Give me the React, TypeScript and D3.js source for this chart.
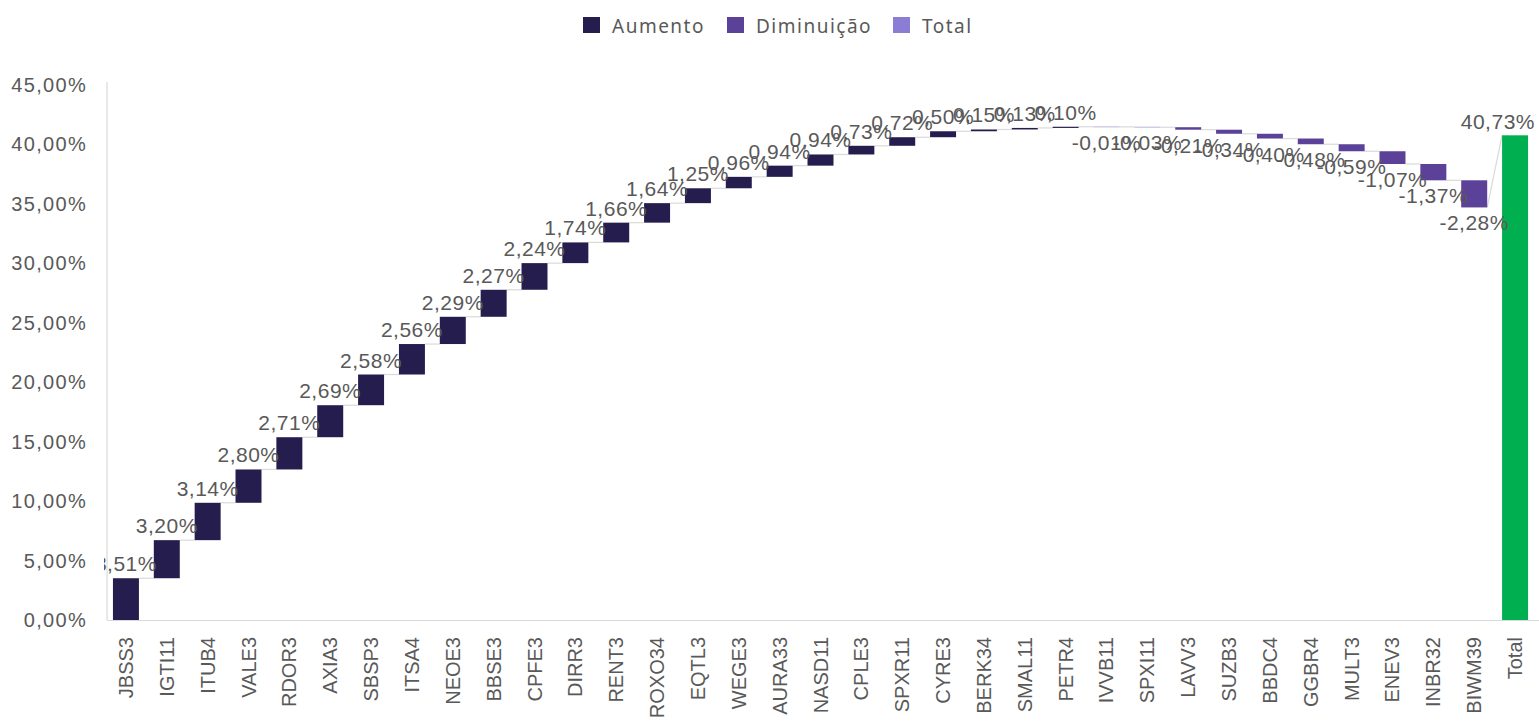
import * as d3 from "d3";

// tickers in chart order, last one is the total column
const categories = [
  "JBSS3", "IGTI11", "ITUB4", "VALE3", "RDOR3", "AXIA3", "SBSP3", "ITSA4", "NEOE3",
  "BBSE3", "CPFE3", "DIRR3", "RENT3", "ROXO34", "EQTL3", "WEGE3", "AURA33", "NASD11",
  "CPLE3", "SPXR11", "CYRE3", "BERK34", "SMAL11", "PETR4", "IVVB11", "SPXI11", "LAVV3",
  "SUZB3", "BBDC4", "GGBR4", "MULT3", "ENEV3", "INBR32", "BIWM39", "Total",
];
const changes = [
  3.51, 3.2, 3.14, 2.8, 2.71, 2.69, 2.58, 2.56, 2.29,
  2.27, 2.24, 1.74, 1.66, 1.64, 1.25, 0.96, 0.94, 0.94,
  0.73, 0.72, 0.5, 0.15, 0.13, 0.1, -0.01, -0.03, -0.21,
  -0.34, -0.4, -0.48, -0.59, -1.07, -1.37, -2.28,
];
const totalValue = 40.73;
const yTicks = [0, 5, 10, 15, 20, 25, 30, 35, 40, 45];
const legendItems = ["Aumento", "Diminuição", "Total"];

const colors = {
  up: "#261d4f",
  down: "#5b4197",
  total: "#8a7dd3",
  totalBar: "#00b050",
  text: "#595959",
  axis: "#d9d9d9",
};

const fmt = (v: number) => v.toFixed(2).replace(".", ",") + "%";

export default function App() {
  const width = 1539;
  const height = 723;

  const x = d3
    .scaleBand<string>()
    .domain(categories)
    .range([106, 1535])
    .paddingInner(0.364)
    .paddingOuter(0.17);
  const y = d3.scaleLinear().domain([0, 45]).range([620, 84.5]);
  const bw = x.bandwidth();

  // running totals for the waterfall steps
  let run = 0;
  const steps = changes.map((v, i) => {
    const start = run;
    run += v;
    return { name: categories[i], value: v, start, end: run };
  });
  const totalName = categories[categories.length - 1];
  const totalCx = (x(totalName) as number) + bw / 2;

  const labelFont = "'Liberation Sans', Arial, sans-serif";

  return (
    <svg width={width} height={height} style={{ position: "absolute", left: 0, top: 0 }}>
      <defs>
        <clipPath id="plot">
          <rect x={104} y={60} width={1435} height={600} />
        </clipPath>
      </defs>
      <rect width={width} height={height} fill="#fff" />

      {/* legend */}
      {legendItems.map((name, i) => {
        const sx = [583, 727, 893][i];
        const c = [colors.up, colors.down, colors.total][i];
        return (
          <g key={name}>
            <rect x={sx} y={17} width={17} height={16} fill={c} />
            <text
              x={sx + 29}
              y={33}
              fontFamily="'Noto Sans', sans-serif"
              fontSize={19}
              letterSpacing={1.5}
              fill={colors.text}
            >
              {name}
            </text>
          </g>
        );
      })}

      {/* axes */}
      <line x1={107} x2={107} y1={82} y2={620} stroke={colors.axis} strokeWidth={1.2} />
      <line x1={107} x2={1539} y1={620.5} y2={620.5} stroke={colors.axis} strokeWidth={1.2} />
      {yTicks.map((t) => (
        <text
          key={t}
          x={87}
          y={y(t) + 7}
          textAnchor="end"
          fontFamily={labelFont}
          fontSize={20}
          letterSpacing={1.3}
          fill={colors.text}
        >
          {fmt(t)}
        </text>
      ))}
      {categories.map((c) => {
        const cx = (x(c) as number) + bw / 2 + 7;
        return (
          <text
            key={c}
            transform={`translate(${cx},637) rotate(-90)`}
            textAnchor="end"
            fontFamily={labelFont}
            fontSize={20}
            fill={colors.text}
          >
            {c}
          </text>
        );
      })}

      {/* connectors */}
      {steps.map((s, i) => {
        const x1 = (x(s.name) as number) + bw;
        const next = categories[i + 1];
        const x2 = x(next) as number;
        const y2 = next === totalName ? y(totalValue) : y(s.end);
        return (
          <line key={"c" + i} x1={x1} x2={x2} y1={y(s.end)} y2={y2} stroke={colors.axis} strokeWidth={1.2} />
        );
      })}

      {/* bars */}
      {steps.map((s) => {
        const top = y(Math.max(s.start, s.end));
        const bot = y(Math.min(s.start, s.end));
        return (
          <rect
            key={s.name}
            x={x(s.name)}
            y={top}
            width={bw}
            height={Math.max(bot - top, 0.4)}
            fill={s.value >= 0 ? colors.up : colors.down}
          />
        );
      })}
      <rect
        x={x(totalName)}
        y={y(totalValue)}
        width={bw}
        height={y(0) - y(totalValue)}
        fill={colors.totalBar}
      />

      {/* data labels */}
      <g clipPath="url(#plot)" fontFamily={labelFont} fontSize={21} letterSpacing={0.5} fill={colors.text}>
        {steps.map((s) => {
          const cx = (x(s.name) as number) + bw / 2;
          const ly = s.value >= 0 ? y(s.end) - 7 : y(s.end) + 23;
          return (
            <text key={"l" + s.name} x={cx} y={ly} textAnchor="middle">
              {fmt(s.value)}
            </text>
          );
        })}
        {/* total label pushed left so it stays inside the chart */}
        <text x={Math.min(totalCx + 38, width - 4)} y={y(totalValue) - 6} textAnchor="end">
          {fmt(totalValue)}
        </text>
      </g>
    </svg>
  );
}
